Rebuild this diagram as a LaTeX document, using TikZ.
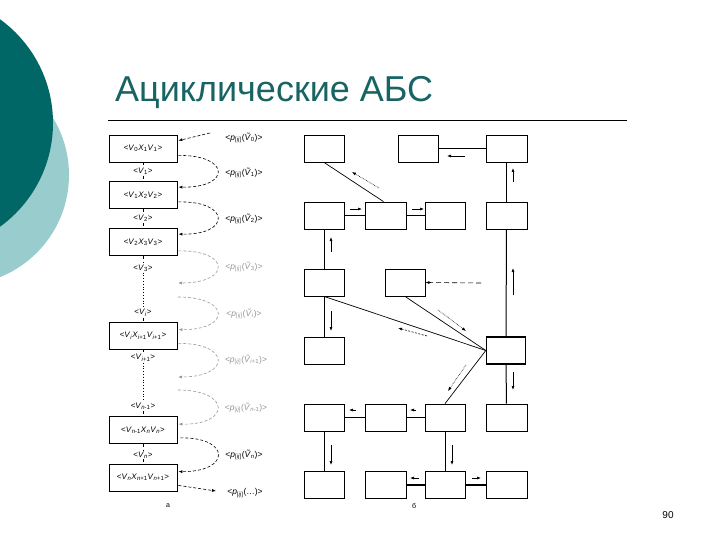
\documentclass[tikz,border=0pt]{standalone}
\usepackage{fontspec}
\setmainfont{Liberation Sans}
\usetikzlibrary{arrows.meta,calc}
\definecolor{tealdark}{RGB}{0,102,102}
\definecolor{teallight}{RGB}{153,204,204}
\definecolor{titlecol}{RGB}{24,100,100}
\definecolor{lgray}{RGB}{150,150,150}
\newcommand{\myV}[1]{\textit{V}\textsubscript{#1}}
\newcommand{\myX}[1]{\textit{X}\textsubscript{#1}}
\newcommand{\myVt}[1]{\textit{\~V}\textsubscript{#1}}
\newcommand{\myP}{\textit{p}\textsubscript{[\textit{ij}]}}
\tikzset{
  lbox/.style={draw,line width=0.8pt,minimum width=68pt,minimum height=27pt,inner sep=0pt,font=\fontsize{8}{9}\selectfont},
  vlab/.style={fill=white,inner sep=1pt,font=\fontsize{8}{9}\selectfont},
  plab/.style={inner sep=0pt,font=\fontsize{8.5}{9}\selectfont},
  curv/.style={dashed,dash pattern=on 3pt off 2pt,line width=0.6pt,-{Latex[length=4pt,width=3pt]}},
  rbox/.style={draw,line width=0.8pt,minimum width=40pt,minimum height=27pt,inner sep=0pt},
  conn/.style={line width=0.7pt},
  sarr/.style={line width=0.6pt,-{Latex[length=4pt,width=3pt]}},
}
\begin{document}
\begin{tikzpicture}[x=1pt,y=-1pt]
\useasboundingbox (0,0) rectangle (720,540);
\begin{scope}
\clip (0,0) rectangle (720,540);
\fill[teallight] (-41,175) circle (110);
\fill[tealdark] (-75,123) circle (128);
\end{scope}
% title
\node[anchor=base west,inner sep=0pt,text=titlecol,font=\fontsize{36}{42}\selectfont] (title) at (115,102) {Ациклические АБС};
\draw[line width=0.8pt] (108,120) -- (627,120);

% left column boxes
\node[lbox] (b1) at (143,148.5) {<\myV{0}\myX{1}\myV{1}>};
\node[lbox] (b2) at (143,195) {<\myV{1}\myX{2}\myV{2}>};
\node[lbox] (b3) at (143,242) {<\myV{2}\myX{3}\myV{3}>};
\node[lbox] (b4) at (143,335.5) {<\myV{\textit{i}}\myX{\textit{i}+1}\myV{\textit{i}+1}>};
\node[lbox] (b5) at (143,430) {<\myV{\textit{n}-1}\myX{\textit{n}}\myV{\textit{n}}>};
\node[lbox] (b6) at (143,477.5) {<\myV{\textit{n}}\myX{\textit{n}+1}\myV{\textit{n}+1}>};

\node[vlab] (v1) at (143,171) {<\myV{1}>};
\node[vlab] (v2) at (143,218) {<\myV{2}>};
\node[vlab] (v3) at (143,268) {<\myV{3}>};
\node[vlab] (vi) at (143,313) {<\myV{\textit{i}}>};
\node[vlab] (vi1) at (143,358) {<\myV{\textit{i}+1}>};
\node[vlab] (vn1) at (143,406) {<\myV{\textit{n}-1}>};
\node[vlab] (vn) at (143,455) {<\myV{\textit{n}}>};

\draw[dashed,line width=0.6pt] (b1) -- (v1) -- (b2) -- (v2) -- (b3) -- (v3);
\draw[dotted,line width=0.8pt] (v3) -- (vi);
\draw[dashed,line width=0.6pt] (vi) -- (b4) -- (vi1);
\draw[dotted,line width=0.8pt] (vi1) -- (vn1);
\draw[dashed,line width=0.6pt] (vn1) -- (b5) -- (vn) -- (b6);

% curved arrows
\coordinate (t0) at (210,133);
\draw[curv] (t0) -- ($(b1.north east)+(1,6)$);
\draw[curv] ($(b1.south east)+(1,-7)$) .. controls (231,155) and (231,188) .. ($(b2.north east)+(1,6)$);
\draw[curv] ($(b2.south east)+(1,-7)$) .. controls (231,201) and (231,235) .. ($(b3.north east)+(1,6)$);
\coordinate (g1) at (178,283);
\coordinate (g2) at (178,297);
\coordinate (g3) at (178,377);
\coordinate (g4) at (178,390);
\draw[curv,lgray] ($(b3.south east)+(1,-5)$) .. controls (231,250) and (231,283) .. (g1);
\draw[curv,lgray] (g2) .. controls (231,297) and (231,330) .. ($(b4.north east)+(1,8)$);
\draw[curv,lgray] ($(b4.south east)+(1,-6)$) .. controls (231,343) and (231,377) .. (g3);
\draw[curv,lgray] (g4) .. controls (231,390) and (231,425) .. ($(b5.north east)+(1,8)$);
\draw[curv] ($(b5.south east)+(3,-6)$) .. controls (231,437) and (231,472) .. ($(b6.north east)+(1,8)$);
\coordinate (t1) at (216,491);
\draw[curv] ($(b6.south east)+(1,-6)$) -- (t1);

\node[plab] (p0) at (244,138) {<\myP(\myVt{0})>};
\node[plab] (p1) at (244,173) {<\myP(\myVt{1})>};
\node[plab] (p2) at (244,219) {<\myP(\myVt{2})>};
\node[plab,text=lgray] (p3) at (244,267) {<\myP(\myVt{3})>};
\node[plab,text=lgray] (pi) at (244,314) {<\myP(\myVt{\textit{i}})>};
\node[plab,text=lgray] (pi1) at (246,360) {<\myP(\myVt{\textit{i}+1})>};
\node[plab,text=lgray] (pn1) at (246,408) {<\myP(\myVt{\textit{n}-1})>};
\node[plab] (pn) at (244,455) {<\myP(\myVt{\textit{n}})>};
\node[plab] (pe) at (245,493) {<\myP(…)>};

\node[font=\fontsize{7}{8}\selectfont] (la) at (168,506) {а};
\node[font=\fontsize{7}{8}\selectfont] (lb) at (414,506) {б};
\node[font=\fontsize{10}{12}\selectfont] (pg) at (668,515) {90};

% right diagram
\node[rbox] (A) at (324,148.5) {};
\node[rbox] (B) at (418,148.5) {};
\node[rbox,minimum width=41pt] (C) at (506.5,148.5) {};
\node[rbox] (D) at (324,215.5) {};
\node[rbox,minimum width=41pt] (E) at (385.5,215.5) {};
\node[rbox] (F) at (445,215.5) {};
\node[rbox,minimum width=41pt] (G) at (506.5,215.5) {};
\node[rbox] (H) at (324,282.5) {};
\node[rbox] (I) at (405,282.5) {};
\node[rbox] (J) at (324,350.5) {};
\node[rbox,minimum width=39pt,line width=1.4pt] (K) at (506,350.5) {};
\node[rbox] (L) at (324,417.5) {};
\node[rbox,minimum width=41pt] (M) at (385.5,417.5) {};
\node[rbox] (N) at (445,417.5) {};
\node[rbox,minimum width=41pt] (O) at (506.5,417.5) {};
\node[rbox] (P) at (324,485) {};
\node[rbox,minimum width=41pt] (Q) at (385.5,485) {};
\node[rbox] (R) at (445,485) {};
\node[rbox,minimum width=41pt] (S) at (506.5,485) {};

\draw[conn] (B) -- (C);
\draw[conn,line width=1pt] (C) -- (G);
\draw[conn] (A.south) -- ([xshift=-2pt]E.north);
\draw[conn] (D) -- (E);
\draw[conn] (E) -- (F);
\draw[conn] (D) -- (H);
\draw[conn,line width=1pt] (G) -- (K);
\draw[conn] (H) -- (J);
\draw[conn] (H.south) -- (K.west);
\draw[conn] (I.south) -- (K.west);
\draw[conn] (K.west) -- (N.north);
\draw[conn,line width=1pt] (K) -- (O);
\draw[conn] (L) -- (M);
\draw[conn] (M) -- (N);
\draw[conn] (L) -- (P);
\draw[conn] (N) -- (R);
\draw[conn,line width=1.8pt] (R) -- (Q);
\draw[conn,line width=1.8pt] (R) -- (S);

% small direction arrows
\draw[sarr] (465,156) -- (447,156);
\draw[sarr] (513,182) -- (513,168);
\draw[sarr,densely dotted] (379,188) -- (352,172);
\draw[sarr] (350,209) -- (362,209);
\draw[sarr] (412,209) -- (424,209);
\draw[sarr] (331,252) -- (331,237);
\draw[sarr] (513,295) -- (513,268);
\draw[sarr] (331,311) -- (331,331);
\draw[sarr,dashed,dash pattern=on 2pt off 1.5pt] (427,336) -- (398,328);
\draw[sarr,densely dotted] (438,310) -- (466,331);
\coordinate (ie) at (481,283);
\draw[sarr,dashed,dash pattern=on 5pt off 3pt] (ie) -- (I.east);
\draw[sarr,densely dotted] (466,365) -- (448,391);
\draw[sarr] (513,372) -- (513,390);
\draw[sarr] (356,410) -- (349,410);
\draw[sarr] (416,410) -- (410,410);
\draw[sarr] (331,445) -- (331,465);
\draw[sarr] (452,445) -- (452,465);
\draw[sarr] (419,478) -- (410,478);
\draw[sarr] (472,478) -- (481,478);
\end{tikzpicture}
\end{document}
